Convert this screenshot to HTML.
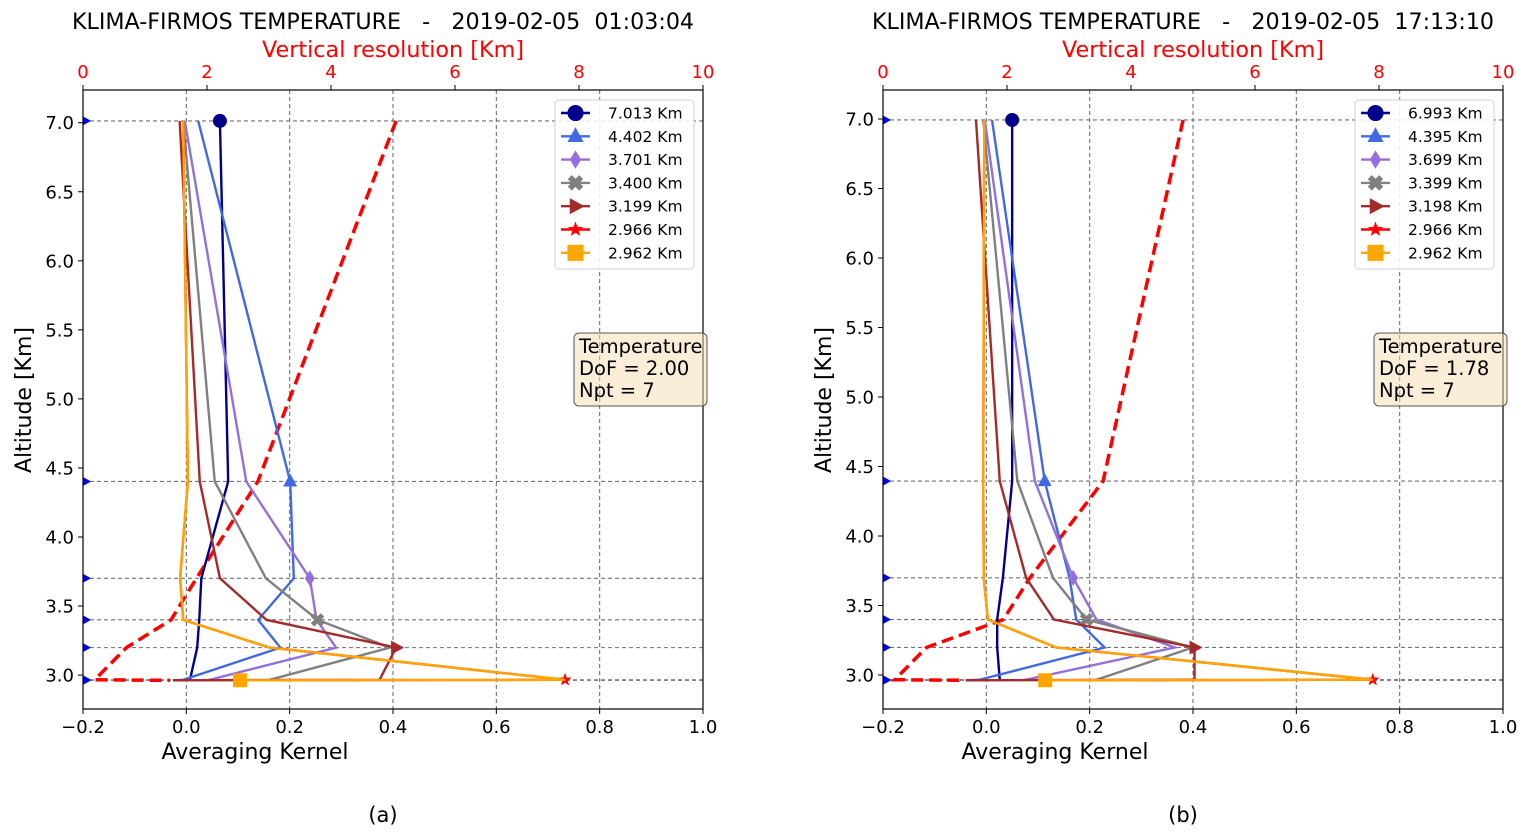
<!DOCTYPE html>
<html><head><meta charset="utf-8"><style>
html,body{margin:0;padding:0;background:#fff;}
svg{display:block;font-family:"DejaVu Sans","Liberation Sans",sans-serif;}
.pre{white-space:pre;}
</style></head>
<body>
<svg id="fig" width="1530" height="839" viewBox="0 0 1530 839" xmlns="http://www.w3.org/2000/svg"></svg>
<script>
// ---- data ----
const altsA = [7.013, 4.402, 3.701, 3.400, 3.199, 2.966, 2.962];
const altsB = [6.993, 4.395, 3.699, 3.399, 3.198, 2.966, 2.962];
const akA_7013 = [0.065, 0.081, 0.029, 0.025, 0.021, 0.007, 0.005];
const akA_4402 = [0.023, 0.201, 0.208, 0.139, 0.182, -0.006, -0.026];
const akA_3701 = [-0.003, 0.116, 0.239, 0.252, 0.290, 0.045, 0.040];
const akA_3400 = [-0.006, 0.055, 0.154, 0.254, 0.394, 0.161, 0.160];
const akA_3199 = [-0.013, 0.026, 0.065, 0.155, 0.406, 0.374, -0.026];
const akA_2966 = [-0.006, 0.003, -0.012, -0.006, 0.161, 0.733, 0.104];
const akA_2962 = [-0.006, 0.003, -0.012, -0.006, 0.161, 0.733, 0.104];
const vresA = [5.05, 2.82, 1.83, 1.42, 0.70, 0.19, 1.40];
const akB_6993 = [0.050, 0.050, 0.032, 0.021, 0.021, 0.026, 0.026];
const akB_4395 = [0.011, 0.113, 0.161, 0.174, 0.229, -0.013, -0.040];
const akB_3699 = [-0.003, 0.094, 0.168, 0.213, 0.365, 0.077, 0.070];
const akB_3399 = [-0.006, 0.060, 0.129, 0.194, 0.400, 0.213, 0.210];
const akB_3198 = [-0.020, 0.026, 0.077, 0.131, 0.403, 0.403, -0.040];
const akB_2966 = [-0.004, -0.006, -0.005, 0.003, 0.135, 0.748, 0.114];
const akB_2962 = [-0.004, -0.006, -0.005, 0.003, 0.135, 0.748, 0.114];
const vresB = [4.84, 3.55, 2.37, 1.94, 0.70, 0.19, 1.29];
const xTicks = [-0.2, 0.0, 0.2, 0.4, 0.6, 0.8, 1.0];
const xTickLabels = ["\u22120.2","0.0","0.2","0.4","0.6","0.8","1.0"];
const topTicks = [0,2,4,6,8,10];
const yTicks = [3.0,3.5,4.0,4.5,5.0,5.5,6.0,6.5,7.0];
const labelsA = ["7.013 Km","4.402 Km","3.701 Km","3.400 Km","3.199 Km","2.966 Km","2.962 Km"];
const labelsB = ["6.993 Km","4.395 Km","3.699 Km","3.399 Km","3.198 Km","2.966 Km","2.962 Km"];
const colors = ["#00008b","#4169e1","#9370db","#808080","#a52a2a","#ff0000","#ffa500"];
const markers = ["circle","tri","diamond","x","right","star","square"];

const NS="http://www.w3.org/2000/svg";
const svg=document.getElementById('fig');
function el(tag,attrs,parent,text){const e=document.createElementNS(NS,tag);for(const k in attrs)e.setAttribute(k,attrs[k]);if(text!==undefined)e.textContent=text;(parent||svg).appendChild(e);return e;}

function marker(g,type,x,y,c,s){
  s=s||1;
  if(type==="circle") el('circle',{cx:x,cy:y,r:7*s,fill:c},g);
  else if(type==="tri") el('polygon',{points:`${x},${y-8*s} ${x-7*s},${y+5*s} ${x+7*s},${y+5*s}`,fill:c},g);
  else if(type==="diamond") el('polygon',{points:`${x},${y-8*s} ${x+5*s},${y} ${x},${y+8*s} ${x-5*s},${y}`,fill:c},g);
  else if(type==="x") el('path',{d:`M${x-5*s},${y-5*s}L${x+5*s},${y+5*s}M${x-5*s},${y+5*s}L${x+5*s},${y-5*s}`,stroke:c,'stroke-width':5*s},g);
  else if(type==="right") el('polygon',{points:`${x+8*s},${y} ${x-5*s},${y-7*s} ${x-5*s},${y+7*s}`,fill:c},g);
  else if(type==="star"){let p=[];for(let i=0;i<10;i++){const r=(i%2?2.8:7)*s;const a=-Math.PI/2+i*Math.PI/5;p.push((x+r*Math.cos(a)).toFixed(1)+','+(y+r*Math.sin(a)).toFixed(1));}el('polygon',{points:p.join(' '),fill:c},g);}
  else el('rect',{x:x-7*s,y:y-7*s,width:14*s,height:14*s,fill:c},g);
}

function panel(cfg){
  const L=cfg.left,R=L+620,T=90,B=709;
  const X=v=>L+(v-(-0.2))/1.2*620;
  const XT=v=>L+v/10*620;
  const Y=v=>T+(cfg.ymax-v)/(cfg.ymax-cfg.ymin)*(B-T);
  const g=el('g',{});
  
  
  xTicks.forEach(t=>{if(t>-0.2&&t<1.0)el('line',{x1:X(t),x2:X(t),y1:T,y2:B,stroke:'#707070','stroke-dasharray':'4,3','stroke-width':1.1},g);});
  cfg.alts.forEach(a=>el('line',{x1:L,x2:R,y1:Y(a),y2:Y(a),stroke:'#707070','stroke-dasharray':'4,3','stroke-width':1.1},g));
  const vr=el('polyline',{points:cfg.vres.map((v,i)=>XT(v)+','+Y(cfg.alts[i])).join(' '),fill:'none',stroke:'#ff0000','stroke-width':3.5,'stroke-dasharray':'12,6'},g);
  
  
  cfg.series.forEach((s,k)=>{
    const sg=el('g',{},g);
    
    
    el('polyline',{points:s.map((v,i)=>X(v)+','+Y(cfg.alts[i])).join(' '),fill:'none',stroke:colors[k],'stroke-width':2.4},sg);
    marker(sg,markers[k],X(s[k]),Y(cfg.alts[k]),colors[k]);
  });
  cfg.alts.forEach(a=>{const y=Y(a);el('polygon',{points:`${L},${y-4.5} ${L+8},${y} ${L},${y+4.5}`,fill:'#0000ff'},g);});
  el('rect',{x:L,y:T,width:620,height:B-T,fill:'none',stroke:'#000','stroke-width':1.2},g);
  xTicks.forEach((t,i)=>{el('line',{x1:X(t),x2:X(t),y1:B,y2:B+5,stroke:'#000'},g);el('text',{x:X(t),y:B+24,'text-anchor':'middle','font-size':18},g,xTickLabels[i]);});
  topTicks.forEach(t=>{el('line',{x1:XT(t),x2:XT(t),y1:T,y2:T-5,stroke:'#000'},g);el('text',{x:XT(t),y:T-12,'text-anchor':'middle','font-size':18,fill:'#ff0000'},g,String(t));});
  yTicks.forEach(t=>{el('line',{x1:L,x2:L-5,y1:Y(t),y2:Y(t),stroke:'#000'},g);el('text',{x:L-9,y:Y(t)+6.5,'text-anchor':'end','font-size':18},g,t.toFixed(1));});
  const xl=el('text',{x:L+172,y:759,'text-anchor':'middle','font-size':22},g,'Averaging Kernel');
  
  const tl=el('text',{x:L+310,y:57,'text-anchor':'middle','font-size':22.3,fill:'#ff0000'},g,'Vertical resolution [Km]');
  
  const yl=el('text',{x:0,y:0,'text-anchor':'middle','font-size':22,transform:`translate(${L-52},400) rotate(-90)`},g,'Altitude [Km]');
  
  const ti=el('text',{x:L+300,y:29,'text-anchor':'middle','font-size':22.2,'class':'pre'},g,cfg.title);
  
  const cap=el('text',{x:L+300,y:822,'text-anchor':'middle','font-size':21},g,cfg.cap);
  
  const lg=el('g',{},g);
  
  el('rect',{x:L+472,y:100,width:139,height:169,rx:4,fill:'#fff','fill-opacity':0.85,stroke:'#d0d0d0'},lg);
  cfg.labels.forEach((lab,k)=>{
    const y=113+k*23.3;
    const e=el('g',{},lg);
    
    el('line',{x1:L+478,x2:L+507,y1:y,y2:y,stroke:colors[k],'stroke-width':2.4},e);
    marker(e,markers[k],L+492.5,y,colors[k],1.15);
    el('text',{x:L+525,y:y+5.5,'font-size':15.5},e,lab);
  });
  const ib=el('g',{},g);
  
  el('rect',{x:L+491,y:333,width:133,height:73,rx:5,fill:'#f5deb3','fill-opacity':0.5,stroke:'#555'},ib);
  el('text',{x:L+496,y:353,'font-size':19.5},ib,'Temperature');
  el('text',{x:L+496,y:375,'font-size':19.5},ib,'DoF = '+cfg.dof);
  el('text',{x:L+496,y:397,'font-size':19.5},ib,'Npt = 7');
}

panel({name:'panel-a',left:83,ymax:7.0+31/138.5+0.013,ymin:3.0-34/138.5,alts:altsA,vres:vresA,
  series:[akA_7013,akA_4402,akA_3701,akA_3400,akA_3199,akA_2966,akA_2962],labels:labelsA,
  title:'KLIMA-FIRMOS TEMPERATURE   -   2019-02-05  01:03:04',cap:'(a)',dof:'2.00'});
panel({name:'panel-b',left:883,ymax:7.0+29/139,ymin:3.0-34/139,alts:altsB,vres:vresB,
  series:[akB_6993,akB_4395,akB_3699,akB_3399,akB_3198,akB_2966,akB_2962],labels:labelsB,
  title:'KLIMA-FIRMOS TEMPERATURE   -   2019-02-05  17:13:10',cap:'(b)',dof:'1.78'});
</script>
</body></html>
